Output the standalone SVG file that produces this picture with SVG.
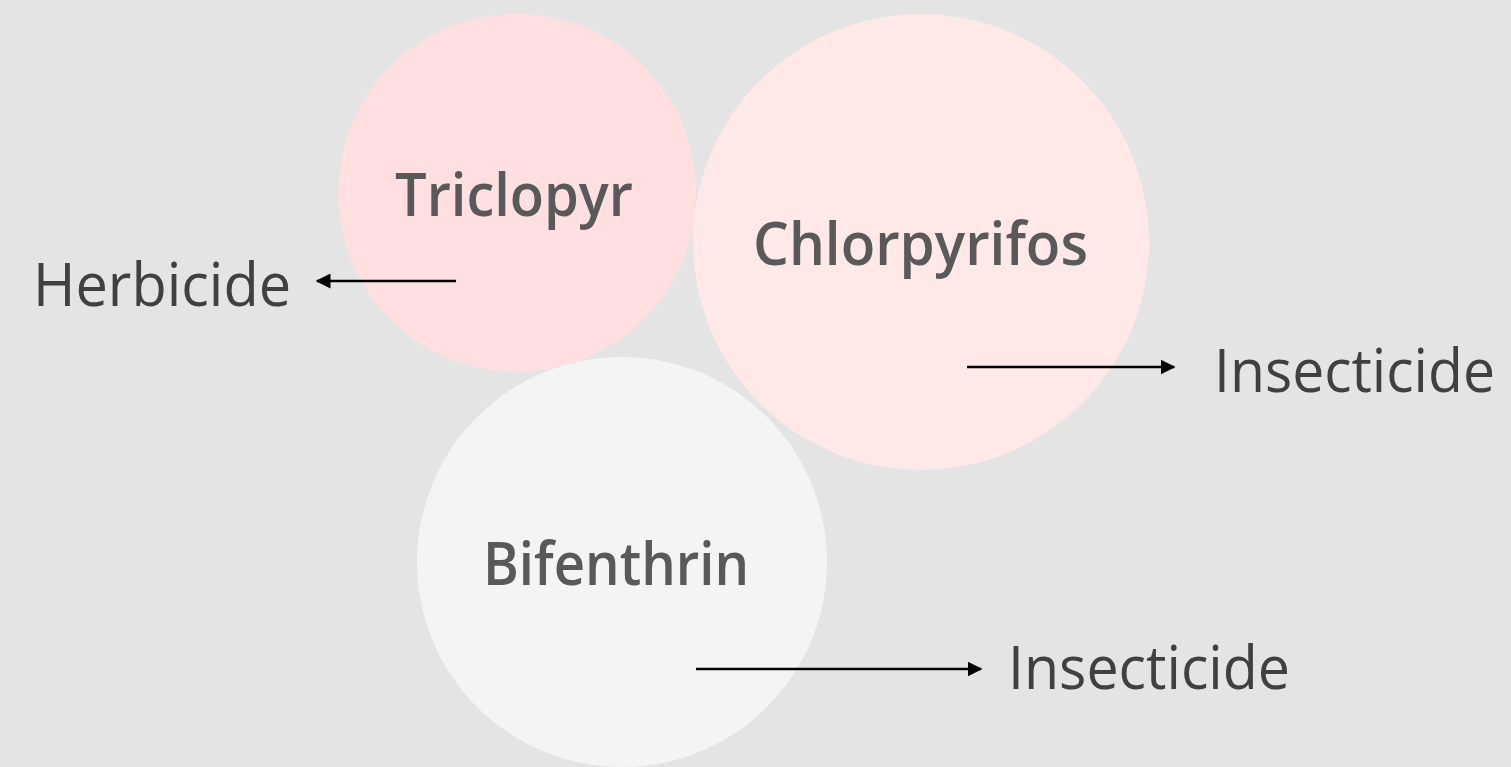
<svg xmlns="http://www.w3.org/2000/svg" width="1511" height="767" viewBox="0 0 1511 767">
  <style>
    .lbl { font-family: "Open Sans", "Noto Sans", "Liberation Sans", sans-serif; font-weight: 600; font-size: 60px; fill: #595959; }
    .out { font-family: "Open Sans", "Noto Sans", "Liberation Sans", sans-serif; font-weight: 400; font-size: 60px; fill: #404040; }
    .conn { stroke: #000; stroke-width: 2.5; fill: none; }
  </style>
  <defs>
    <marker id="arrow" viewBox="0 0 10 10" refX="9" refY="5" markerUnits="userSpaceOnUse" markerWidth="15" markerHeight="15" orient="auto">
      <path d="M0,0 L10,5 L0,10 Z" fill="#000"/>
    </marker>
  </defs>
  <rect x="0" y="0" width="1511" height="767" fill="#e4e4e4"/>
  <g id="node-triclopyr">
    <circle cx="517" cy="193" r="179" fill="#ffdfdf"/>
    <text class="lbl" x="395" y="216" textLength="238" lengthAdjust="spacingAndGlyphs">Triclopyr</text>
  </g>
  <g id="node-chlorpyrifos">
    <circle cx="921" cy="242" r="228" fill="#ffe8e8"/>
    <text class="lbl" x="753" y="265" textLength="335" lengthAdjust="spacingAndGlyphs">Chlorpyrifos</text>
  </g>
  <g id="node-bifenthrin">
    <circle cx="622" cy="562" r="205" fill="#f4f4f4"/>
    <text class="lbl" x="483" y="585" textLength="266" lengthAdjust="spacingAndGlyphs">Bifenthrin</text>
  </g>
  <g id="node-herbicide">
    <text class="out" x="33" y="306" textLength="258" lengthAdjust="spacingAndGlyphs">Herbicide</text>
  </g>
  <g id="node-insecticide-1">
    <text class="out" x="1214" y="392" textLength="281" lengthAdjust="spacingAndGlyphs">Insecticide</text>
  </g>
  <g id="node-insecticide-2">
    <text class="out" x="1008" y="689" textLength="282" lengthAdjust="spacingAndGlyphs">Insecticide</text>
  </g>
  <g id="connectors">
    <line class="conn" x1="456" y1="281" x2="317" y2="281" marker-end="url(#arrow)"/>
    <line class="conn" x1="967" y1="367" x2="1174" y2="367" marker-end="url(#arrow)"/>
    <line class="conn" x1="696" y1="669" x2="981" y2="669" marker-end="url(#arrow)"/>
  </g>
</svg>
